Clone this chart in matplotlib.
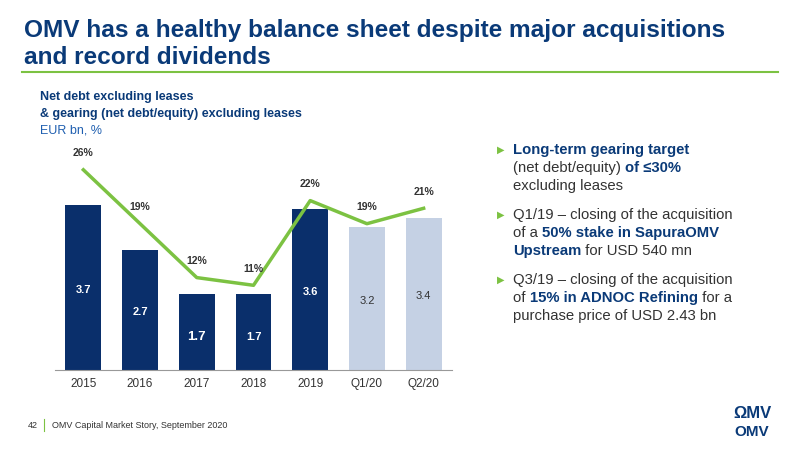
import matplotlib
matplotlib.use("Agg")
import matplotlib.pyplot as plt

categories = ["2015", "2016", "2017", "2018", "2019", "Q1/20", "Q2/20"]
net_debt = [3.7, 2.7, 1.7, 1.7, 3.6, 3.2, 3.4]
gearing = [26, 19, 12, 11, 22, 19, 21]
net_debt_labels = ["3.7", "2.7", "1.7", "1.7", "3.6", "3.2", "3.4"]

NAVY = "#0a2f6b"
LIGHT = "#c5d1e4"
GREEN = "#7cc242"
TITLE = "#0a3a78"

plt.rcParams["font.family"] = ["Liberation Sans", "DejaVu Sans"]
fig = plt.figure(figsize=(8, 4.51), dpi=100)
W, H = 800, 451

def fx(x): return x / W
def fy(y): return 1 - y / H

fig.text(fx(24), fy(31), "OMV has a healthy balance sheet despite major acquisitions",
         fontsize=17.6, fontweight="bold", color=TITLE, va="center")
fig.text(fx(24), fy(57), "and record dividends",
         fontsize=17.6, fontweight="bold", color=TITLE, va="center")
fig.add_artist(plt.Line2D([fx(22), fx(778)], [fy(72), fy(72)], color=GREEN, lw=1.5))

fig.text(fx(40), fy(97), "Net debt excluding leases", fontsize=9, fontweight="bold", color=TITLE, va="center")
fig.text(fx(40), fy(114), "& gearing (net debt/equity) excluding leases", fontsize=9, fontweight="bold", color=TITLE, va="center")
fig.text(fx(40), fy(130), "EUR bn, %", fontsize=9, color="#1f5fb0", va="center")

ax = fig.add_axes([fx(55), fy(370), fx(452 - 55), (370 - 150) / H])
x = range(len(categories))
colors = [NAVY] * 5 + [LIGHT] * 2
ax.bar(x, net_debt, width=0.63, color=colors)
ax.set_ylim(0, 220 / 44.6)
ax.set_xlim(-0.5, len(categories) - 0.5)
for i, (v, lab) in enumerate(zip(net_debt, net_debt_labels)):
    ax.text(i, v / 2 - 0.05 if v > 2 else v / 2 - 0.1, lab, ha="center", va="center",
            fontsize=8 if i not in (2,) else 9.5, fontweight="bold" if i < 5 else "normal",
            color="white" if i < 5 else "#333333")
ax.set_xticks(list(x))
ax.set_xticklabels(categories, fontsize=8.5, color="#333333")
ax.tick_params(axis="x", length=0, pad=6)
ax.set_yticks([])
for s in ["top", "right", "left"]:
    ax.spines[s].set_visible(False)
ax.spines["bottom"].set_color("#999999")

ax2 = ax.twinx()
ax2.set_ylim(0, 220 / 7.7)
ax2.plot(list(x), gearing, color=GREEN, lw=2.5)
ax2.set_yticks([])
for s in ax2.spines.values():
    s.set_visible(False)
for i, g in enumerate(gearing):
    ax2.text(i, g + 1.5, f"{g}%", ha="center", va="bottom", fontsize=7.5, fontweight="bold", color="#333333")

bullets = [
    (150, [("Long-term gearing target", True, TITLE)]),
    (168, [("(net debt/equity) ", False, "#333333"), ("of ≤30%", True, TITLE)]),
    (186, [("excluding leases", False, "#333333")]),
    (215, [("Q1/19 – closing of the acquisition", False, "#333333")]),
    (233, [("of a ", False, "#333333"), ("50% stake in SapuraOMV", True, TITLE)]),
    (251, [("Upstream", True, TITLE), (" for USD 540 mn", False, "#333333")]),
    (280, [("Q3/19 – closing of the acquisition", False, "#333333")]),
    (298, [("of ", False, "#333333"), ("15% in ADNOC Refining", True, TITLE), (" for a", False, "#333333")]),
    (316, [("purchase price of USD 2.43 bn", False, "#333333")]),
]
for yb in (150, 215, 280):
    fig.text(fx(497), fy(yb), "▶", fontsize=7, color=GREEN, va="center", family=["DejaVu Sans"])
fig.canvas.draw()
r = fig.canvas.get_renderer()
for y, parts in bullets:
    xpos = 513
    for txt, bold, col in parts:
        t = fig.text(fx(xpos), fy(y), txt, fontsize=10.7, fontweight="bold" if bold else "normal",
                     color=col, va="center")
        bb = t.get_window_extent(renderer=r)
        xpos += bb.width

fig.text(fx(28), fy(425), "42", fontsize=6.5, color="#333333", va="center")
fig.add_artist(plt.Line2D([fx(44), fx(44)], [fy(419), fy(431)], color=GREEN, lw=0.8))
fig.text(fx(52), fy(425), "OMV Capital Market Story, September 2020", fontsize=6.5, color="#333333", va="center")
fig.text(fx(752), fy(432), "OMV", fontsize=11, color=TITLE, ha="center", va="center", fontweight="bold")
fig.text(fx(752), fy(413), "ΩMV", fontsize=12, color=TITLE, ha="center", va="center", fontweight="bold")

fig.savefig("out.png", dpi=100)
